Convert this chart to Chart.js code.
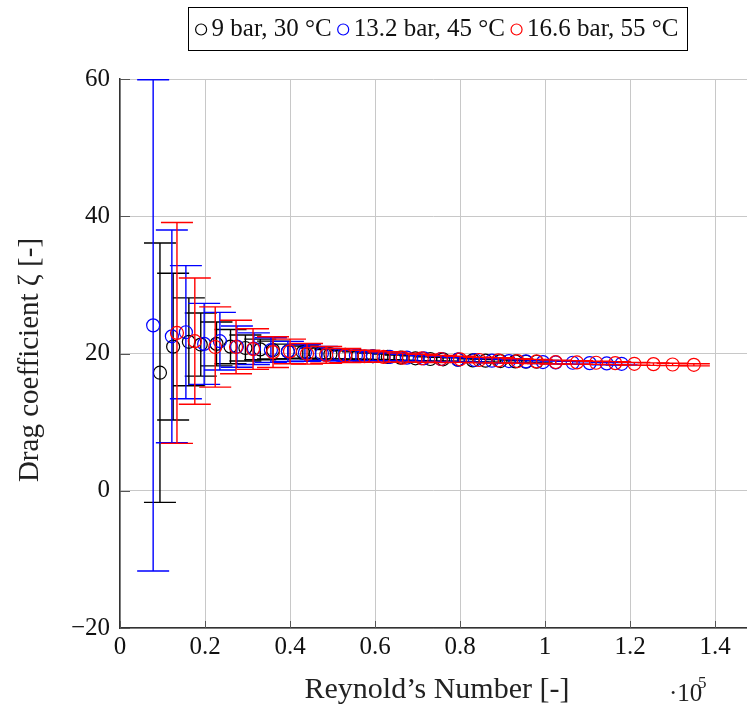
<!DOCTYPE html>
<html>
<head>
<meta charset="utf-8">
<script src="https://cdn.jsdelivr.net/npm/chart.js@4.4.0/dist/chart.umd.min.js"></script>
<style>
  html, body { margin: 0; padding: 0; background: #fff; }
  #wrap { width: 747px; height: 711px; }
</style>
</head>
<body>
<div id="wrap"><canvas id="drag"></canvas></div>
<script>
// Reynolds number in units of 1e5, drag coefficient, and its error (+/-)
const seriesLabels = ['9 bar, 30 °C', '13.2 bar, 45 °C', '16.6 bar, 55 °C'];
const seriesColors = ['#000000', '#0000ff', '#ff0000'];

const blackRe = [0.094, 0.125, 0.162, 0.19, 0.227, 0.26, 0.295, 0.33, 0.36, 0.395, 0.43, 0.46, 0.495, 0.53,
  0.56, 0.595, 0.63, 0.66, 0.695, 0.73, 0.76, 0.795, 0.83, 0.86, 0.895, 0.93, 0.955, 0.98];
const blackZeta = [17.2, 21.0, 21.7, 21.3, 21.4, 21.0, 20.8, 20.6, 20.5, 20.3, 20.2, 20.0, 19.9, 19.8,
  19.7, 19.6, 19.5, 19.4, 19.3, 19.2, 19.15, 19.1, 19.0, 18.95, 18.9, 18.85, 18.8, 18.8];
const blackErr = [18.9, 10.7, 6.4, 4.6, 3.2, 2.5, 1.9, 1.5, 1.3, 1.07, 0.9, 0.79, 0.68, 0.59,
  0.53, 0.47, 0.42, 0.38, 0.35, 0.31, 0.29, 0.26, 0.24, 0.23, 0.21, 0.19, 0.18, 0.17];

const blueRe = [0.078, 0.122, 0.155, 0.198, 0.235, 0.275, 0.315, 0.355, 0.395, 0.435, 0.475, 0.515, 0.555, 0.595,
  0.635, 0.675, 0.715, 0.755, 0.795, 0.835, 0.875, 0.915, 0.955, 0.995, 1.025, 1.065, 1.105, 1.145, 1.18];
const blueZeta = [24.1, 22.5, 23.1, 21.4, 21.8, 21.0, 20.7, 20.5, 20.3, 20.1, 20.0, 19.8, 19.7, 19.6,
  19.5, 19.4, 19.3, 19.2, 19.1, 19.05, 18.95, 18.9, 18.85, 18.75, 18.7, 18.65, 18.6, 18.55, 18.5];
const blueErr = [35.8, 15.5, 9.7, 5.9, 4.2, 3.0, 2.3, 1.8, 1.47, 1.22, 1.02, 0.87, 0.75, 0.65,
  0.57, 0.5, 0.45, 0.4, 0.36, 0.33, 0.3, 0.27, 0.25, 0.23, 0.21, 0.2, 0.19, 0.18, 0.17];

const redRe = [0.134, 0.176, 0.224, 0.273, 0.313, 0.36, 0.40, 0.44, 0.485, 0.53, 0.575, 0.62, 0.665, 0.71,
  0.755, 0.80, 0.845, 0.89, 0.935, 0.98, 1.025, 1.075, 1.12, 1.165, 1.21, 1.255, 1.30, 1.35];
const redZeta = [23.0, 21.8, 20.95, 20.95, 20.65, 20.2, 20.3, 19.95, 19.8, 19.7, 19.6, 19.5, 19.4, 19.3,
  19.2, 19.15, 19.05, 19.0, 18.9, 18.85, 18.75, 18.7, 18.65, 18.6, 18.5, 18.45, 18.4, 18.35];
const redErr = [16.1, 9.2, 5.85, 3.9, 2.96, 2.24, 1.8, 1.5, 1.23, 1.03, 0.88, 0.75, 0.66, 0.58,
  0.51, 0.45, 0.41, 0.37, 0.33, 0.3, 0.28, 0.25, 0.23, 0.22, 0.2, 0.18, 0.17, 0.16];

const xTickValues = [0, 0.2, 0.4, 0.6, 0.8, 1, 1.2, 1.4];
const yTickValues = [-20, 0, 20, 40, 60];

const serif = '"Liberation Serif", "DejaVu Serif", serif';

function toPoints(xs, ys) {
  return xs.map((x, i) => ({ x: x, y: ys[i] }));
}

const allErrs = [blackErr, blueErr, redErr];

// vertical error bars with fixed-width caps, drawn under each dataset's markers
const errorBars = {
  id: 'errorBars',
  beforeDatasetDraw(chart, args) {
    const ds = chart.data.datasets[args.index];
    const errs = allErrs[args.index];
    const xs = chart.scales.x, ys = chart.scales.y;
    const area = chart.chartArea;
    const ctx = chart.ctx;
    ctx.save();
    ctx.beginPath();
    ctx.rect(area.left - 2, area.top - 2, area.right - area.left + 4, area.bottom - area.top + 4);
    ctx.clip();
    ctx.strokeStyle = ds.borderColor;
    ctx.lineWidth = 1.4;
    ds.data.forEach((p, i) => {
      const px = xs.getPixelForValue(p.x);
      const top = ys.getPixelForValue(p.y + errs[i]);
      const bot = ys.getPixelForValue(p.y - errs[i]);
      ctx.beginPath();
      ctx.moveTo(px, top); ctx.lineTo(px, bot);
      ctx.moveTo(px - 16, top); ctx.lineTo(px + 16, top);
      ctx.moveTo(px - 16, bot); ctx.lineTo(px + 16, bot);
      ctx.stroke();
    });
    ctx.restore();
  }
};

// legend box, axis titles and inward ticks
const decorations = {
  id: 'decorations',
  afterDraw(chart) {
    const ctx = chart.ctx;
    const area = chart.chartArea;
    const xs = chart.scales.x, ys = chart.scales.y;
    ctx.save();

    // inward ticks
    ctx.strokeStyle = '#555';
    ctx.lineWidth = 1;
    ctx.beginPath();
    xTickValues.forEach(v => {
      const px = Math.round(xs.getPixelForValue(v)) + 0.5;
      ctx.moveTo(px, area.bottom); ctx.lineTo(px, area.bottom - 7);
    });
    yTickValues.forEach(v => {
      const py = Math.round(ys.getPixelForValue(v)) + 0.5;
      ctx.moveTo(area.left, py); ctx.lineTo(area.left + 10, py);
    });
    ctx.stroke();

    // axis titles
    ctx.fillStyle = '#222';
    ctx.font = '30px ' + serif;
    ctx.textAlign = 'center';
    ctx.textBaseline = 'middle';
    ctx.fillText('Reynold\u2019s Number [-]', 437, 690);
    ctx.font = '25px ' + serif;
    ctx.textAlign = 'left';
    ctx.fillText('\u00b710', 669, 694);
    ctx.font = '17px ' + serif;
    ctx.fillText('5', 698, 684);

    ctx.save();
    ctx.translate(30, 360);
    ctx.rotate(-Math.PI / 2);
    ctx.font = '29px ' + serif;
    ctx.textAlign = 'center';
    ctx.fillText('Drag coefficient \u03b6 [-]', 0, 0);
    ctx.restore();

    // legend
    ctx.font = '25px ' + serif;
    ctx.textBaseline = 'middle';
    ctx.textAlign = 'left';
    const r = 5.5, gapMark = 5, gapItem = 6, pad = 8;
    const widths = seriesLabels.map(t => ctx.measureText(t).width);
    const total = widths.reduce((a, w) => a + 2 * r + gapMark + w, 0) + gapItem * (seriesLabels.length - 1);
    const boxW = total + 2 * pad;
    const boxL = 437 - boxW / 2, boxT = 7, boxH = 43;
    ctx.fillStyle = '#fff';
    ctx.fillRect(boxL, boxT, boxW, boxH);
    ctx.strokeStyle = '#000';
    ctx.lineWidth = 1;
    ctx.strokeRect(Math.round(boxL) + 0.5, boxT + 0.5, Math.round(boxW), boxH);
    let cx = boxL + pad;
    const cy = boxT + boxH / 2 + 1;
    seriesLabels.forEach((t, i) => {
      ctx.beginPath();
      ctx.strokeStyle = seriesColors[i];
      ctx.lineWidth = 1.2;
      ctx.arc(cx + r, cy, r, 0, Math.PI * 2);
      ctx.stroke();
      cx += 2 * r + gapMark;
      ctx.fillStyle = '#111';
      ctx.fillText(t, cx, cy);
      cx += widths[i] + gapItem;
    });

    ctx.restore();
  }
};

const makeSet = (label, color, xs, ys, order) => ({
  label: label,
  data: toPoints(xs, ys),
  borderColor: color,
  backgroundColor: 'rgba(0,0,0,0)',
  pointStyle: 'circle',
  pointRadius: 6.5,
  pointBorderWidth: 1.2,
  showLine: false,
  order: order
});

new Chart(document.getElementById('drag'), {
  type: 'scatter',
  data: {
    datasets: [
      makeSet(seriesLabels[0], seriesColors[0], blackRe, blackZeta, 3),
      makeSet(seriesLabels[1], seriesColors[1], blueRe, blueZeta, 2),
      makeSet(seriesLabels[2], seriesColors[2], redRe, redZeta, 1)
    ]
  },
  options: {
    responsive: true,
    maintainAspectRatio: false,
    animation: false,
    layout: { autoPadding: false, padding: { top: 79, right: 0, left: 0, bottom: 0 } },
    plugins: {
      legend: { display: false },
      tooltip: { enabled: false }
    },
    scales: {
      x: {
        type: 'linear',
        min: 0,
        max: 1.475,
        afterFit: s => { s.height = 83; s.paddingLeft = 0; s.paddingRight = 0; },
        afterBuildTicks: s => { s.ticks = xTickValues.map(v => ({ value: v })); },
        ticks: {
          color: '#111',
          font: { family: serif, size: 25 },
          padding: 4,
          maxRotation: 0,
          callback: v => String(Math.round(v * 10) / 10)
        },
        grid: { color: '#c8c8c8', lineWidth: 1, drawTicks: false },
        border: { display: true, color: '#333', width: 1.5 }
      },
      y: {
        type: 'linear',
        min: -20,
        max: 60,
        afterFit: s => { s.width = 120; s.paddingTop = 0; s.paddingBottom = 0; },
        afterBuildTicks: s => { s.ticks = yTickValues.map(v => ({ value: v })); },
        ticks: {
          color: '#111',
          font: { family: serif, size: 25 },
          padding: 10,
          callback: v => String(v).replace('-', '\u2212')
        },
        grid: { color: '#c8c8c8', lineWidth: 1, drawTicks: false },
        border: { display: true, color: '#333', width: 1.5 }
      }
    }
  },
  plugins: [errorBars, decorations]
});
</script>
</body>
</html>
